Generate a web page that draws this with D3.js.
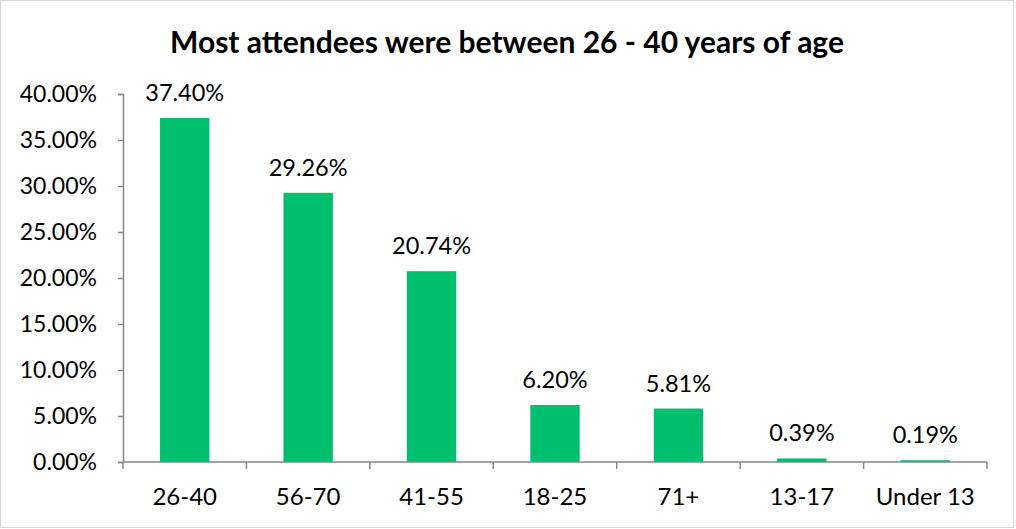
<!DOCTYPE html>
<html>
<head>
<meta charset="utf-8">
<script src="https://cdn.jsdelivr.net/npm/d3@7"></script>
<style>
  body { margin: 0; background: #fff; }
  svg text { font-family: Lato, "Open Sans", sans-serif; fill: #000; }
</style>
</head>
<body>
<svg id="chart" width="1016" height="529"></svg>
<script>
var categories = ["26-40", "56-70", "41-55", "18-25", "71+", "13-17", "Under 13"];
var values = [37.40, 29.26, 20.74, 6.20, 5.81, 0.39, 0.19];
var yTicks = [0, 5, 10, 15, 20, 25, 30, 35, 40];
var TITLE = "Most attendees were between 26 - 40 years of age";

var svg = d3.select("#chart");
var plotLeft = 123, plotRight = 987, plotTop = 94, plotBottom = 462;
var AXIS_COLOR = "#868686";

// outer frame
svg.append("rect")
  .attr("x", 0.5).attr("y", 0.5)
  .attr("width", 1013).attr("height", 527)
  .attr("fill", "#fff")
  .attr("stroke", "#d9d9d9");

svg.append("text")
  .attr("x", 507).attr("y", 53)
  .attr("text-anchor", "middle")
  .style("font-size", "30px")
  .style("font-weight", "bold")
  .text(TITLE);

var x = d3.scaleBand().domain(categories).range([plotLeft, plotRight])
  .paddingInner(0.6).paddingOuter(0.3);
var y = d3.scaleLinear().domain([0, 40]).range([plotBottom, plotTop]);

svg.selectAll(".bar").data(values).enter().append("rect")
  .attr("class", "bar")
  .attr("x", function(d, i) { return x(categories[i]); })
  .attr("y", function(d) { return y(d); })
  .attr("width", x.bandwidth())
  .attr("height", function(d) { return plotBottom - y(d); })
  .attr("fill", "#00BF6F");

svg.selectAll(".val").data(values).enter().append("text")
  .attr("class", "val")
  .attr("x", function(d, i) { return x(categories[i]) + x.bandwidth() / 2; })
  .attr("y", function(d) { return y(d) - 17; })
  .attr("text-anchor", "middle")
  .style("font-size", "23.5px")
  .text(function(d) { return d.toFixed(2) + "%"; });

// y axis
var yAxis = svg.append("g")
  .attr("transform", "translate(" + plotLeft + ",0)")
  .call(d3.axisLeft(y).tickValues(yTicks).tickSize(5).tickPadding(21)
    .tickFormat(function(d) { return d.toFixed(2) + "%"; }));
yAxis.attr("font-family", null).attr("font-size", null);
yAxis.selectAll("text").style("font-size", "23px");
yAxis.select(".domain").attr("stroke", AXIS_COLOR).attr("stroke-width", 1.5);
yAxis.selectAll(".tick line").attr("stroke", AXIS_COLOR).attr("stroke-width", 1.5);

// x axis with ticks at band boundaries
var xAxis = svg.append("g")
  .attr("transform", "translate(0," + plotBottom + ")");
xAxis.append("line")
  .attr("x1", plotLeft).attr("x2", plotRight)
  .attr("stroke", AXIS_COLOR).attr("stroke-width", 1.5);
var step = x.step();
var bounds = d3.range(categories.length + 1).map(function(i) { return plotLeft + i * step; });
xAxis.selectAll(".xt").data(bounds).enter().append("line")
  .attr("x1", function(d) { return d; }).attr("x2", function(d) { return d; })
  .attr("y1", 0).attr("y2", 7)
  .attr("stroke", AXIS_COLOR).attr("stroke-width", 1.5);
xAxis.selectAll(".xl").data(categories).enter().append("text")
  .attr("x", function(d) { return x(d) + x.bandwidth() / 2; })
  .attr("y", 43)
  .attr("text-anchor", "middle")
  .style("font-size", "24px")
  .text(function(d) { return d; });
</script>
</body>
</html>
